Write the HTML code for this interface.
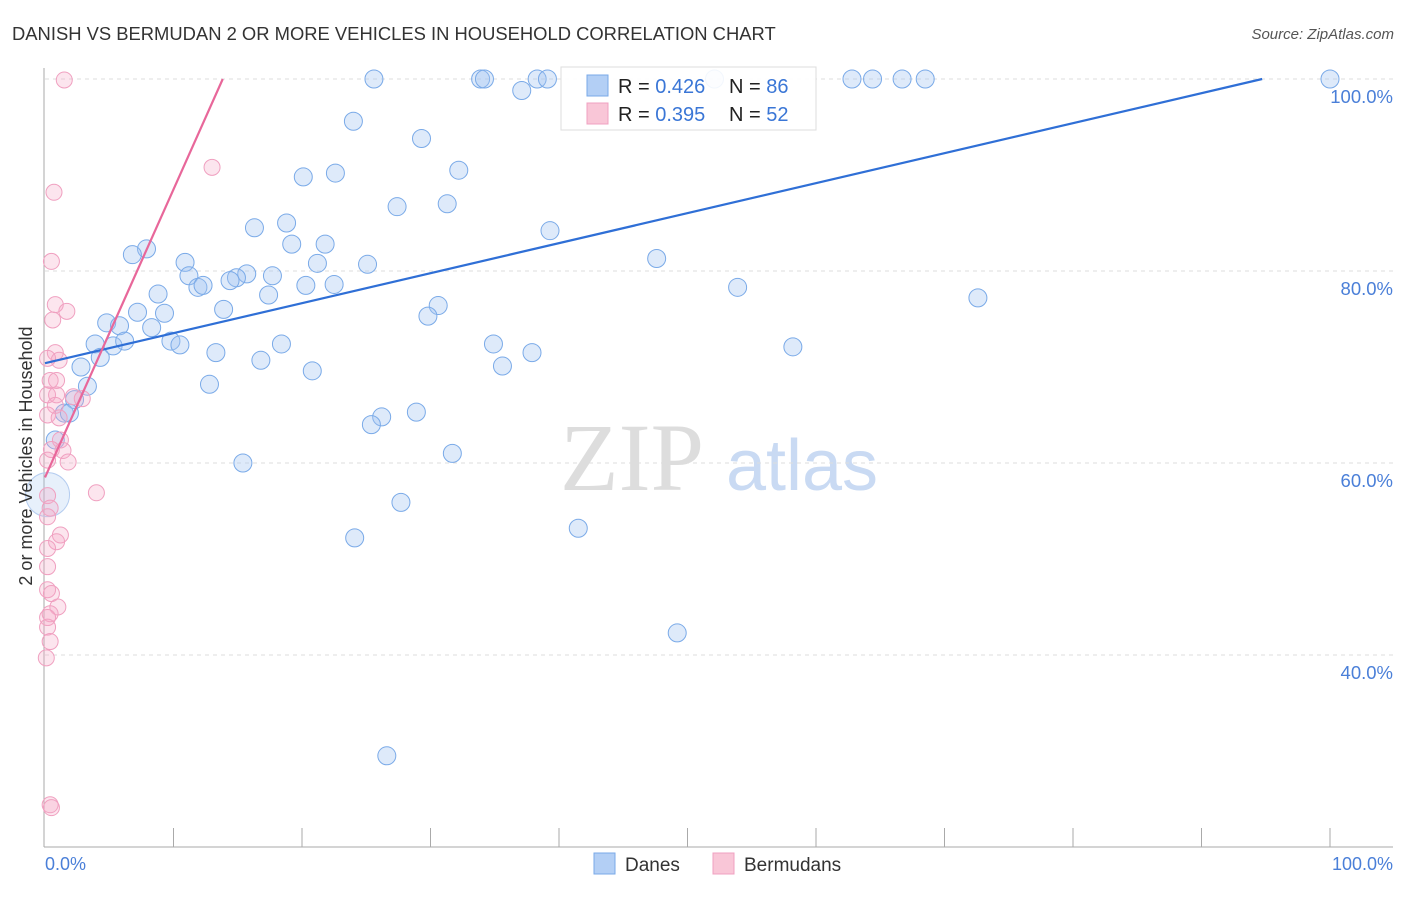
<!DOCTYPE html>
<html><head><meta charset="utf-8"><style>
body{margin:0;background:#fff;font-family:"Liberation Sans",sans-serif;}
</style></head><body>
<svg id="chart" width="1406" height="892" xmlns="http://www.w3.org/2000/svg">
<text x="12" y="40" font-size="18.4" fill="#333">DANISH VS BERMUDAN 2 OR MORE VEHICLES IN HOUSEHOLD CORRELATION CHART</text>
<text x="1394" y="39" font-size="15" fill="#555" font-style="italic" text-anchor="end">Source: ZipAtlas.com</text>
<g>
<text x="632" y="490" font-size="96" fill="#ddd" font-family="Liberation Serif,serif" text-anchor="middle">ZIP</text>
<text x="802" y="490" font-size="72" fill="#c9daf3" text-anchor="middle">atlas</text>
</g>
<g id="grid"></g>
<g id="axes"></g>
<g id="marks"></g>
<text x="32" y="456" font-size="18" fill="#333" text-anchor="middle" transform="rotate(-90 32 456)">2 or more Vehicles in Household</text>
<text x="45" y="870" font-size="18" fill="#4a7fd8">0.0%</text>
<text x="1393" y="870" font-size="18" fill="#4a7fd8" text-anchor="end">100.0%</text>
<g>
<rect x="561" y="67" width="255" height="63" fill="#fff" stroke="#ddd" fill-opacity="0.9"/>
<rect x="587" y="75" width="21" height="21" fill="#b3cff5" stroke="#7aaae8"/>
<rect x="587" y="103" width="21" height="21" fill="#f9c6d7" stroke="#f0a0c0"/>
<text x="618" y="93" font-size="20" fill="#222">R = <tspan fill="#3a76d6">0.426</tspan></text>
<text x="729" y="93" font-size="20" fill="#222">N = <tspan fill="#3a76d6">86</tspan></text>
<text x="618" y="121" font-size="20" fill="#222">R = <tspan fill="#3a76d6">0.395</tspan></text>
<text x="729" y="121" font-size="20" fill="#222">N = <tspan fill="#3a76d6">52</tspan></text>
</g>
<g>
<rect x="594" y="853" width="21" height="21" fill="#b3cff5" stroke="#7aaae8"/>
<text x="625" y="871" font-size="19" fill="#333">Danes</text>
<rect x="713" y="853" width="21" height="21" fill="#f9c6d7" stroke="#f0a0c0"/>
<text x="744" y="871" font-size="19" fill="#333">Bermudans</text>
</g>
</svg>
<script>
const yTicks=[100,80,60,40];
const yTickLabels=["100.0%","80.0%","60.0%","40.0%"];
const xTicks=[10,20,30,40,50,60,70,80,90,100];
const danesX=[25.6,33.9,34.2,38.3,39.1,52.1,62.8,64.4,66.7,68.5,100,37.1,24.0,29.3,32.2,20.1,22.6,27.4,31.3,39.3,16.3,18.8,19.2,21.8,7.9,6.8,10.9,21.2,25.1,47.6,11.2,17.7,15.7,14.9,14.4,11.9,12.3,20.3,22.5,53.9,72.6,8.8,17.4,7.2,9.3,13.9,30.6,29.8,4.8,5.8,8.3,3.9,5.3,6.2,9.8,10.5,18.4,13.3,34.9,37.9,58.2,4.3,2.8,16.8,20.8,35.6,3.3,12.8,2.3,1.5,1.9,28.9,26.2,25.4,0.8,31.7,15.4,27.7,41.5,24.1,0.2,49.2,26.6];
const danesY=[100,100,100,100,100,100,100,100,100,100,100,98.8,95.6,93.8,90.5,89.8,90.2,86.7,87.0,84.2,84.5,85.0,82.8,82.8,82.3,81.7,80.9,80.8,80.7,81.3,79.5,79.5,79.7,79.3,79.0,78.3,78.5,78.5,78.6,78.3,77.2,77.6,77.5,75.7,75.6,76.0,76.4,75.3,74.6,74.3,74.1,72.4,72.2,72.7,72.7,72.3,72.4,71.5,72.4,71.5,72.1,71.0,70.0,70.7,69.6,70.1,68.0,68.2,66.6,65.2,65.2,65.3,64.8,64.0,62.4,61.0,60.0,55.9,53.2,52.2,56.7,42.3,29.5];
const bermX=[1.5,13.0,0.7,0.5,0.8,1.7,0.6,0.8,1.1,0.2,0.4,0.9,0.2,0.9,2.2,2.9,0.8,0.2,1.1,1.2,0.5,1.4,0.2,1.8,4.0,0.2,0.4,0.2,1.2,0.9,0.2,0.2,0.2,0.5,1.0,0.4,0.2,0.2,0.4,0.1,0.4,0.5];
const bermY=[99.9,90.8,88.2,81.0,76.5,75.8,74.9,71.5,70.7,70.9,68.6,68.6,67.1,67.1,66.9,66.7,66.0,65.0,64.7,62.4,61.4,61.3,60.3,60.1,56.9,56.6,55.3,54.4,52.5,51.8,51.1,49.2,46.8,46.4,45.0,44.3,43.9,42.9,41.4,39.7,24.4,24.1];
const danesFit=[70.4,0.3125];
const bermFit=[58.5,3.0];
const NS="http://www.w3.org/2000/svg";
function sx(v){return 45+v*12.85;}
function sy(v){return 79+(100-v)*9.6;}
function mk(t,a,p){const e=document.createElementNS(NS,t);for(const k in a)e.setAttribute(k,a[k]);p.appendChild(e);return e;}
const grid=document.getElementById('grid'),axes=document.getElementById('axes'),marks=document.getElementById('marks');
yTicks.forEach((t,i)=>{
const l=mk('line',{x1:45,x2:1393,y1:sy(t),y2:sy(t),stroke:'#ddd','stroke-dasharray':'4,4'},grid);


const tx=mk('text',{x:1393,y:sy(t)+24,'font-size':18.5,fill:'#4a7fd8','text-anchor':'end'},grid);
tx.textContent=yTickLabels[i];


});
const ya=mk('line',{x1:44,x2:44,y1:68,y2:847,stroke:'#aaa'},axes);


const xa=mk('line',{x1:44,x2:1393,y1:847,y2:847,stroke:'#aaa'},axes);


xTicks.forEach(t=>{
const l=mk('line',{x1:sx(t),x2:sx(t),y1:828,y2:847,stroke:'#aaa'},axes);


});
danesX.forEach((x,i)=>{
const big=(x<0.5&&danesY[i]>56&&danesY[i]<57.5);
const c=mk('circle',{cx:sx(x),cy:sy(danesY[i]),r:big?22:9,fill:big?'rgba(160,195,240,0.25)':'rgba(160,195,240,0.35)',stroke:big?'#b5cdf0':'#7aaae8','stroke-width':1},marks);


});
bermX.forEach((x,i)=>{
const c=mk('circle',{cx:sx(x),cy:sy(bermY[i]),r:8,fill:'rgba(245,170,200,0.3)',stroke:'#f0a0c0','stroke-width':1},marks);


});
const dEnd=(100-danesFit[0])/danesFit[1];
const dl=mk('line',{x1:sx(0),y1:sy(danesFit[0]),x2:sx(dEnd),y2:sy(100),stroke:'#2f6fd6','stroke-width':2.2},marks);


const bEnd=(100-bermFit[0])/bermFit[1];
const bl=mk('line',{x1:sx(0),y1:sy(bermFit[0]),x2:sx(bEnd),y2:sy(100),stroke:'#e8679a','stroke-width':2.2},marks);


</script>
</body></html>
